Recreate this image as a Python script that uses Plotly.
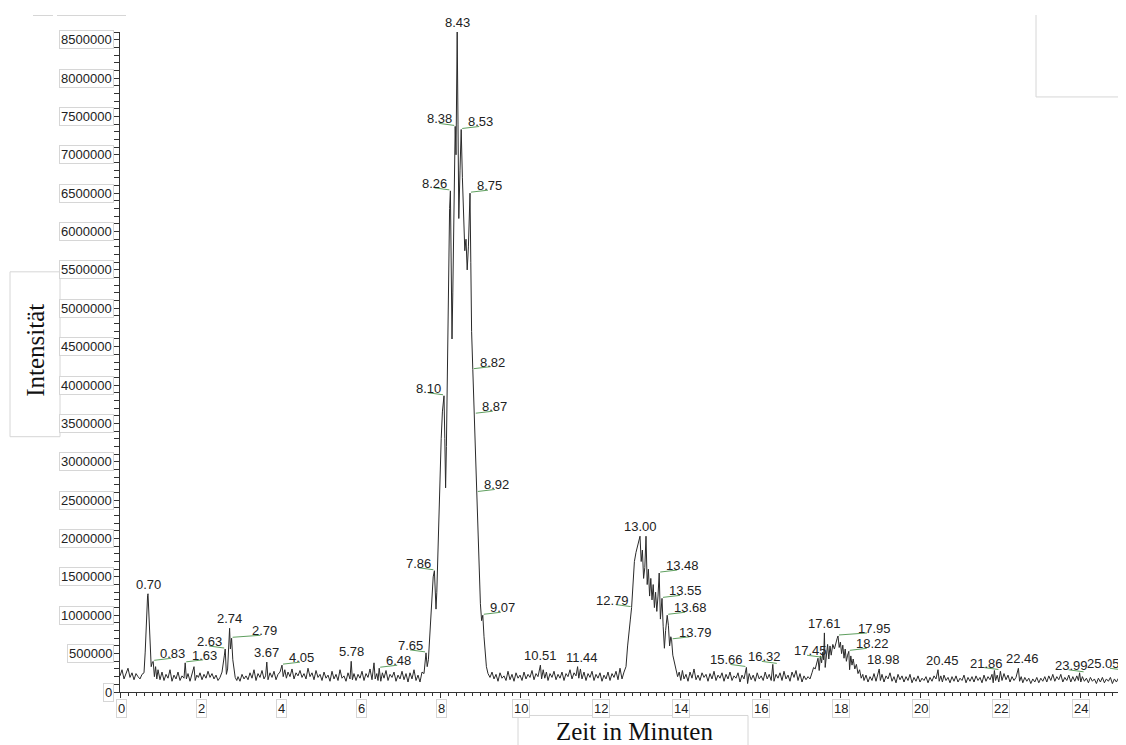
import plotly.graph_objects as go

# ---------------- data ----------------
time_min = [
    0.00, 0.05, 0.10, 0.15, 0.20, 0.25, 0.30, 0.35, 0.40, 0.45, 0.50, 0.55, 0.60,
    0.63, 0.66, 0.69, 0.70, 0.72, 0.75, 0.78, 0.81, 0.83, 0.86, 0.89, 0.92, 0.95,
    1.00, 1.05, 1.10, 1.15, 1.20, 1.25, 1.30, 1.35, 1.40, 1.45, 1.50, 1.55, 1.60,
    1.63, 1.66, 1.70, 1.75, 1.80, 1.85, 1.88, 1.92, 1.96, 2.00, 2.05, 2.10,
    2.15, 2.20, 2.25, 2.30, 2.35, 2.40, 2.45, 2.50,
    2.55, 2.58, 2.61, 2.63, 2.66, 2.69, 2.72, 2.74, 2.76, 2.79, 2.82, 2.85, 2.88, 2.92,
    2.95, 3.00, 3.05, 3.10, 3.15, 3.20, 3.25, 3.30, 3.35, 3.40, 3.45, 3.50, 3.55, 3.60,
    3.64, 3.67, 3.70, 3.75, 3.80, 3.85, 3.90, 3.95, 4.00, 4.05, 4.08, 4.12, 4.16, 4.20,
    4.25, 4.30, 4.35, 4.40, 4.45, 4.50, 4.55, 4.60, 4.65, 4.70, 4.75, 4.80, 4.85, 4.90, 4.95, 5.00,
    5.05, 5.10, 5.15, 5.20, 5.25, 5.30, 5.35, 5.40, 5.45, 5.50, 5.55, 5.60, 5.65, 5.70, 5.75,
    5.78, 5.81, 5.85, 5.90, 5.95, 6.00, 6.05, 6.10, 6.15, 6.20, 6.25, 6.30, 6.35, 6.38, 6.42, 6.45,
    6.48, 6.52, 6.56, 6.60, 6.65, 6.70, 6.75, 6.80, 6.85, 6.90, 6.95, 7.00, 7.05, 7.10, 7.15,
    7.20, 7.25, 7.30, 7.35, 7.40, 7.45, 7.50, 7.55, 7.60,
    7.65, 7.68, 7.71, 7.74, 7.77, 7.80, 7.83, 7.86, 7.88, 7.90, 7.92, 7.95, 7.99, 8.03,
    8.06, 8.08, 8.10, 8.12, 8.14, 8.16, 8.19, 8.22, 8.24, 8.26, 8.28, 8.30, 8.32, 8.35,
    8.38, 8.40, 8.41, 8.43, 8.45, 8.47, 8.50, 8.53, 8.56, 8.59, 8.62, 8.65, 8.68, 8.71,
    8.73, 8.75, 8.77, 8.79, 8.82, 8.84, 8.87, 8.89, 8.92, 8.95, 8.98, 9.01, 9.04, 9.07,
    9.10, 9.13, 9.16, 9.20,
    9.25, 9.30, 9.35, 9.40, 9.45, 9.50, 9.55, 9.60, 9.65, 9.70, 9.75, 9.80, 9.85, 9.90, 9.95, 10.00,
    10.05, 10.10, 10.15, 10.20, 10.25, 10.30, 10.35, 10.40, 10.45, 10.51, 10.54, 10.58, 10.62, 10.66, 10.70,
    10.75, 10.80, 10.85, 10.90, 10.95, 11.00, 11.05, 11.10, 11.15, 11.20, 11.25, 11.30, 11.35, 11.40,
    11.44, 11.47, 11.51, 11.55, 11.60, 11.65, 11.70, 11.75, 11.80, 11.85, 11.90, 11.95, 12.00,
    12.05, 12.10, 12.15, 12.20, 12.25, 12.30, 12.35, 12.40, 12.45, 12.50, 12.55, 12.60,
    12.65, 12.69, 12.73, 12.76, 12.79, 12.82, 12.86, 12.90, 12.94, 12.97, 13.00, 13.03, 13.06, 13.09,
    13.12, 13.15, 13.18, 13.21, 13.24, 13.27, 13.30, 13.33, 13.36, 13.39, 13.42, 13.45, 13.48, 13.51,
    13.53, 13.55, 13.58, 13.61, 13.64, 13.68, 13.71, 13.74, 13.77, 13.79, 13.82, 13.86, 13.90, 13.94,
    13.98, 14.02, 14.06, 14.10, 14.15, 14.20, 14.25, 14.30, 14.35, 14.40, 14.45, 14.50, 14.55, 14.60,
    14.65, 14.70, 14.75, 14.80, 14.85, 14.90, 14.95, 15.00, 15.05, 15.10, 15.15, 15.20, 15.25, 15.30,
    15.35, 15.40, 15.45, 15.50, 15.55, 15.60, 15.66, 15.69, 15.73, 15.78, 15.83, 15.88, 15.93, 15.98,
    16.03, 16.08, 16.13, 16.18, 16.23, 16.28, 16.32, 16.35, 16.40, 16.45, 16.50, 16.55, 16.60, 16.65,
    16.70, 16.75, 16.80, 16.85, 16.90, 16.95, 17.00, 17.05, 17.10, 17.15, 17.20, 17.25,
    17.30, 17.34, 17.38, 17.42, 17.45, 17.48, 17.51, 17.54, 17.57, 17.59, 17.61, 17.63, 17.66, 17.69,
    17.72, 17.75, 17.78, 17.82, 17.86, 17.90, 17.93, 17.95, 17.98, 18.01, 18.04, 18.07, 18.10, 18.13,
    18.16, 18.19, 18.22, 18.24, 18.27, 18.30, 18.33, 18.37, 18.41, 18.45, 18.49, 18.53, 18.57,
    18.60, 18.65, 18.70, 18.75, 18.80, 18.85, 18.90, 18.94, 18.98, 19.01, 19.05, 19.10, 19.15, 19.20,
    19.25, 19.30, 19.35, 19.40, 19.45, 19.50, 19.55, 19.60, 19.65, 19.70, 19.75, 19.80, 19.85, 19.90,
    19.95, 20.00, 20.05, 20.10, 20.15, 20.20, 20.25, 20.30, 20.35, 20.40, 20.45, 20.48, 20.52, 20.56,
    20.60, 20.65, 20.70, 20.75, 20.80, 20.85, 20.90, 20.95, 21.00, 21.05, 21.10, 21.15, 21.20, 21.25,
    21.30, 21.35, 21.40, 21.45, 21.50, 21.55, 21.60, 21.65, 21.70, 21.75, 21.80, 21.83, 21.86, 21.89,
    21.93, 21.97, 22.01, 22.05, 22.10, 22.15, 22.20, 22.25, 22.30, 22.35, 22.40, 22.46, 22.49, 22.53,
    22.57, 22.62, 22.67, 22.72, 22.77, 22.82, 22.87, 22.92, 22.97, 23.02, 23.07, 23.12, 23.17, 23.22,
    23.27, 23.32, 23.37, 23.42, 23.47, 23.52, 23.57, 23.62, 23.67, 23.72, 23.77, 23.82, 23.87, 23.92,
    23.96, 23.99, 24.02, 24.06, 24.11, 24.16, 24.21, 24.26, 24.31, 24.36, 24.41, 24.46, 24.51, 24.56,
    24.61, 24.66, 24.71, 24.76, 24.81, 24.86, 24.91, 24.96, 25.00, 25.05, 25.08, 25.12, 25.15,
]

# intensity in thousands of counts, one value per entry of time_min
intensity_k = [
    210, 290, 170, 230, 310, 190, 250, 160, 240, 200, 170, 230, 250,
    520, 1050, 1260, 1280, 1000, 560, 330, 390, 400, 200, 330, 170, 290,
    160, 260, 150, 230, 180, 290, 140, 220, 170, 260, 150, 210, 180,
    380, 170, 240, 140, 230, 330, 150, 220, 190, 250, 160, 230,
    180, 270, 190, 240, 170, 220, 150, 190,
    260, 420, 480, 560, 230, 300, 640, 830, 560, 700, 420, 280, 190, 150,
    200, 140, 230, 170, 210, 160, 250, 180, 290, 150, 240, 190, 280, 170,
    210, 390, 160, 250, 190, 270, 160, 230, 260, 350, 200, 290, 180, 260,
    200, 300, 170, 250, 210, 280, 190, 240, 170, 310, 200, 250, 160, 280, 190, 230,
    150, 260, 180, 220, 140, 270, 170, 230, 150, 290, 180, 210, 140, 250, 170,
    400, 160, 240, 150, 230, 180, 270, 150, 240, 190, 300, 160, 380, 170, 240, 150,
    310, 140, 250, 180, 280, 150, 230, 190, 260, 140, 220, 170, 270, 160, 240,
    130, 250, 170, 290, 150, 220, 130, 260, 240,
    510, 330, 420, 700, 1100, 1350, 1500, 1580, 1250, 1080, 1300, 1900, 2700, 3300,
    3650, 3750, 3860, 3300, 2660, 3200, 4600, 5900, 6300, 6530, 5600, 4600, 5200, 6600,
    7370, 7000, 7600, 8600, 7400, 6170, 6800, 7330, 6700, 6100, 5750, 5900, 5500, 5800,
    6300, 6500, 5600, 4700, 4200, 3850, 3620, 3100, 2600, 2000, 1500, 1150, 930, 1000,
    720, 480, 330, 240,
    190, 260, 170, 230, 140, 250, 180, 210, 150, 270, 160, 230, 140, 250, 180, 220,
    150, 260, 170, 230, 190, 280, 160, 240, 200, 350, 170, 290, 180, 260, 150,
    240, 190, 270, 160, 230, 180, 260, 150, 240, 200, 290, 170, 250, 210,
    330, 180, 300, 170, 260, 150, 240, 190, 270, 150, 230, 180, 250,
    140, 220, 170, 260, 150, 240, 190, 270, 160, 310, 170, 260,
    330, 600, 850, 950, 1100, 1350, 1700, 1820, 1900, 1950, 2030, 1700, 1850, 1480,
    1620, 2030, 1400, 1600, 1250, 1480, 1200, 1400, 1100, 1300, 1050, 1250, 1550, 950,
    1150, 1220, 850, 570, 800, 1000, 870, 600, 720, 680, 480, 380, 270, 200,
    260, 150, 280, 170, 230, 140, 260, 180, 300, 160, 220, 150, 250, 190,
    230, 140, 240, 170, 270, 150, 220, 180, 250, 140, 230, 170, 260, 150,
    210, 180, 250, 130, 220, 170, 320, 110, 240, 160, 220, 140, 250, 170,
    210, 150, 260, 170, 230, 150, 360, 140, 230, 180, 250, 150, 270, 170,
    220, 140, 260, 190, 280, 150, 240, 130, 210, 160, 200, 170,
    250, 320, 300, 380, 440, 280, 470, 380, 520, 420, 770, 320, 520, 620,
    430, 600, 480, 620, 560, 660, 700, 730, 580, 650, 500, 610, 440, 560,
    400, 480, 530, 290, 470, 350, 430, 300, 360, 240, 290, 180, 230,
    150, 220, 130, 200, 150, 240, 140, 220, 300, 150, 230, 130, 210, 170,
    250, 140, 200, 120, 230, 160, 210, 130, 200, 150, 230, 120, 190, 140,
    210, 130, 180, 150, 200, 120, 190, 140, 210, 170, 290, 140, 210, 130,
    220, 150, 190, 120, 200, 140, 210, 130, 180, 150, 220, 120, 190, 140,
    200, 130, 210, 150, 190, 120, 220, 140, 200, 160, 230, 120, 280, 150,
    220, 130, 270, 150, 240, 160, 220, 130, 200, 150, 190, 310, 140, 200,
    120, 190, 140, 180, 110, 170, 130, 190, 120, 180, 140, 200, 130, 210,
    150, 230, 140, 200, 160, 230, 130, 190, 150, 220, 130, 200, 140, 210,
    150, 250, 130, 200, 140, 180, 120, 190, 140, 170, 110, 180, 130, 190,
    120, 170, 140, 190, 110, 170, 130, 180, 120, 270, 110, 150, 130,
]

# labelled peak retention times and where each label sits
# t = above, T = above (nudged right), r/R = right with leader, l = left with leader,
# m = left of centre with a leader crossing the peak, e = left, ending past the peak
peak_times = [0.70, 0.83, 1.63, 2.63, 2.74, 2.79, 3.67, 4.05, 5.78, 6.48, 7.65, 7.86,
              8.10, 8.26, 8.38, 8.43, 8.53, 8.75, 8.82, 8.87, 8.92, 9.07, 10.51, 11.44,
              12.79, 13.00, 13.48, 13.55, 13.68, 13.79, 15.66, 16.32, 17.45, 17.61,
              17.95, 18.22, 18.98, 20.45, 21.86, 22.46, 23.99, 25.05]
peak_sides = ['t', 'r', 'r', 'l', 't', 'R', 't', 'r', 't', 'r', 'l', 'l',
              'l', 'l', 'l', 't', 'r', 'r', 'r', 'r', 'r', 'r', 't', 'T',
              'l', 't', 'r', 'r', 'r', 'r', 'l', 'm', 'm', 't',
              'R', 'r', 'T', 'T', 'm', 'T', 'm', 'e']

y_ticks = [i * 500000 for i in range(18)]
x_ticks = list(range(0, 26, 2))

assert len(time_min) == len(intensity_k)
assert len(peak_times) == len(peak_sides)
intensity = [v * 1000 for v in intensity_k]

# ---------------- figure ----------------
# the page body has an 8 px margin, so the figure starts at (8, 8) in the window
OFF = 8
W, H = 1126 - OFF, 745 - OFF
ML, MR, MT, MB = 120 - OFF, 0, 32 - OFF, 52.5
PW, PH = W - ML - MR, H - MT - MB

def px_x(p):  # window pixel -> paper fraction
    return (p - OFF - ML) / PW

def px_y(p):
    return (H - MB - (p - OFF)) / PH

AXIS = '#333333'
BOX = '#d6d6d6'
GREEN = '#5f9f5f'
LABEL_FONT = dict(family='Arial, Liberation Sans, sans-serif', size=13, color='#222222')

fig = go.Figure()
fig.add_trace(go.Scatter(x=time_min, y=intensity, mode='lines',
                         line=dict(color='#2a2a2a', width=1), hoverinfo='skip',
                         showlegend=False))

annotations = []
shapes = []

# tick labels in light boxes
for v in y_ticks:
    annotations.append(dict(text=str(v), xref='paper', x=0, xanchor='right', xshift=-6,
                            yref='y', y=v, yanchor='middle', showarrow=False,
                            font=LABEL_FONT, bordercolor=BOX, borderwidth=1, borderpad=1,
                            bgcolor='white'))
for v in x_ticks:
    annotations.append(dict(text=str(v), xref='x', x=v, xanchor='center', xshift=1,
                            yref='paper', y=0, yanchor='top', yshift=-7, showarrow=False,
                            font=LABEL_FONT, bordercolor=BOX, borderwidth=1, borderpad=1,
                            bgcolor='white'))

def leader(t, y, x0, x1, y0, y1):
    shapes.append(dict(type='line', xref='x', yref='y', xsizemode='pixel',
                       ysizemode='pixel', xanchor=t, yanchor=y, x0=x0, x1=x1,
                       y0=y0, y1=y1, line=dict(color=GREEN, width=1)))

# peak labels
for t, side in zip(peak_times, peak_sides):
    idx = min(range(len(time_min)), key=lambda i: abs(time_min[i] - t))
    y = intensity[idx]
    txt = f'{t:.2f}'
    base = dict(text=txt, x=t, y=y, xref='x', yref='y', yanchor='bottom',
                showarrow=False, font=LABEL_FONT)
    if side in ('t', 'T'):
        base.update(xanchor='center', xshift=0 if side == 't' else 4, yshift=0)
    elif side in ('r', 'R'):
        length, shift = (17, 5) if side == 'r' else (28, 18)
        leader(t, y, 1, 1 + length, 1, 3)
        base.update(xanchor='left', xshift=shift, yshift=-2)
    elif side == 'l':
        leader(t, y, -16, -1, 3, 1)
        base.update(xanchor='right', xshift=-1, yshift=-2)
    elif side == 'e':
        leader(t, y, -12, 3, 3, 1)
        base.update(xanchor='right', xshift=0, yshift=-2)
    else:  # 'm'
        leader(t, y, -11, 4, 3, 1)
        base.update(xanchor='center', xshift=-8, yshift=-2)
    annotations.append(base)

# axis titles
TITLE_FONT = dict(family='Liberation Serif, Times New Roman, serif', size=25, color='#111111')
annotations.append(dict(text='Intensität', xref='paper', yref='paper', x=px_x(36),
                        y=px_y(351), xanchor='center', yanchor='middle', textangle=-90,
                        showarrow=False, font=TITLE_FONT))
annotations.append(dict(text='Zeit in Minuten', xref='paper', yref='paper', x=px_x(634),
                        y=px_y(732), xanchor='center', yanchor='middle', showarrow=False,
                        font=TITLE_FONT))

# light frames around titles and leftover frame fragments (window pixels)
def frame_line(x0, y0, x1, y1):
    shapes.append(dict(type='line', xref='paper', yref='paper', x0=px_x(x0), y0=px_y(y0),
                       x1=px_x(x1), y1=px_y(y1), line=dict(color=BOX, width=1), layer='below'))

frame_line(10, 272, 60, 272)
frame_line(10, 437, 60, 437)
frame_line(10, 272, 10, 437)
frame_line(60, 272, 60, 437)
frame_line(518, 716, 748, 716)
frame_line(518, 716, 518, 760)
frame_line(748, 716, 748, 760)
frame_line(33, 15.5, 53, 15.5)
frame_line(57, 15.5, 126, 15.5)
frame_line(1036, 15, 1036, 97)
frame_line(1036, 97, 1130, 97)

fig.update_layout(
    width=W, height=H,
    margin=dict(l=ML, r=MR, t=MT, b=MB, pad=0),
    paper_bgcolor='white', plot_bgcolor='white',
    showlegend=False,
    annotations=annotations,
    shapes=shapes,
    xaxis=dict(range=[0, 25.15], showgrid=False, zeroline=False, showline=True,
               linecolor=AXIS, linewidth=1, ticks='outside', ticklen=5, tickcolor=AXIS,
               tickvals=x_ticks, showticklabels=False,
               minor=dict(dtick=0.2, tick0=0, ticks='outside', ticklen=3, tickcolor=AXIS)),
    yaxis=dict(range=[0, 8600000], showgrid=False, zeroline=False, showline=True,
               linecolor=AXIS, linewidth=1, ticks='outside', ticklen=6, tickcolor=AXIS,
               tickvals=y_ticks, showticklabels=False,
               minor=dict(dtick=100000, tick0=0, ticks='outside', ticklen=5, tickcolor=AXIS)),
)

fig.write_html('out.html')
